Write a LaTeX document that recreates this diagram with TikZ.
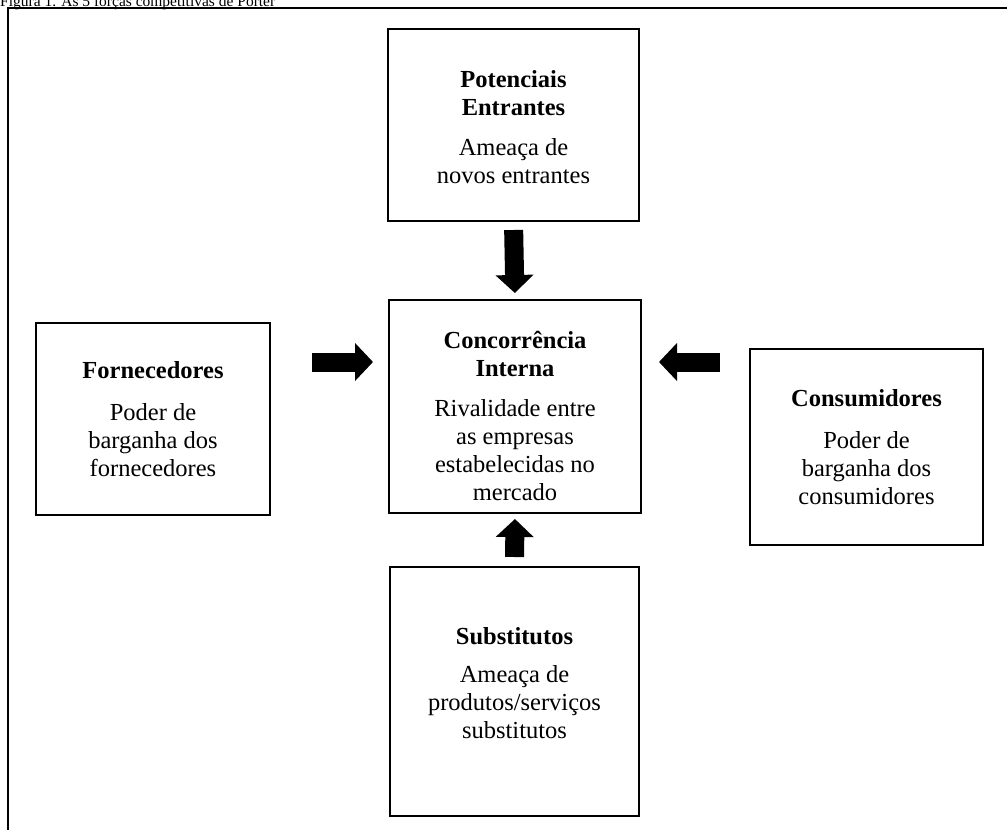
\documentclass[tikz,border=0pt]{standalone}
\usepackage{fontspec}
\setmainfont{Liberation Serif}
\usetikzlibrary{arrows.meta,calc}
\begin{document}
\begin{tikzpicture}[x=1pt,y=1pt,
  box/.style={draw, line width=2pt, inner sep=0pt, anchor=north west},
  txt/.style={align=center, inner sep=0pt, font=\fontsize{24.5}{28}\selectfont},
  bigarrow/.style={line width=19pt, -{Triangle[length=18pt,width=37pt]}},
  frame/.style={line width=2pt},
  caption/.style={anchor=base west, inner sep=0pt, font=\fontsize{15.5}{18}\selectfont}
]
\useasboundingbox (0,0) rectangle (1007,-830);
\clip (0,0) rectangle (1007,-830);
\node[caption] (cap) at (0,-6) {Figura 1. As 5 forças competitivas de Porter};
\coordinate (fbl) at (8,-900);
\coordinate (ftl) at (8,-8);
\coordinate (ftr) at (1100,-8);
\draw[frame] (fbl) -- (ftl) -- (ftr);

\node[box, minimum width=251pt, minimum height=192pt] (top) at (387,-28) {};
\node[box, minimum width=252pt, minimum height=213pt] (mid) at (388,-299) {};
\node[box, minimum width=234pt, minimum height=192pt] (left) at (35,-322) {};
\node[box, minimum width=233pt, minimum height=196pt] (right) at (749,-348) {};
\node[box, minimum width=249pt, minimum height=249pt] (bot) at (389,-566) {};

\node[txt] (toptxt) at ([yshift=-2pt]top.center)
  {\textbf{Potenciais}\\\textbf{Entrantes}\\[12pt]Ameaça de\\novos entrantes};
\node[txt] (midtxt) at ([yshift=-9pt]mid.center)
  {\textbf{Concorrência}\\\textbf{Interna}\\[12pt]Rivalidade entre\\as empresas\\estabelecidas no\\mercado};
\node[txt] (lefttxt) at (left.center)
  {\textbf{Fornecedores}\\[14pt]Poder de\\barganha dos\\fornecedores};
\node[txt] (righttxt) at (right.center)
  {\textbf{Consumidores}\\[14pt]Poder de\\barganha dos\\consumidores};
\node[txt] (bottxt) at ([yshift=8pt]bot.center)
  {\textbf{Substitutos}\\[10pt]Ameaça de\\produtos/serviços\\substitutos};

\coordinate (ay) at (0,-362);
\draw[bigarrow, shorten <=8pt, shorten >=6pt] (top.south) -- (mid.north);
\draw[bigarrow, shorten <=9pt, shorten >=5pt] (bot.north) -- (mid.south);
\draw[bigarrow, shorten <=41pt, shorten >=15pt] (left.east |- ay) -- (mid.west |- ay);
\draw[bigarrow, shorten <=29pt, shorten >=17pt] (right.west |- ay) -- (mid.east |- ay);
\end{tikzpicture}
\end{document}
